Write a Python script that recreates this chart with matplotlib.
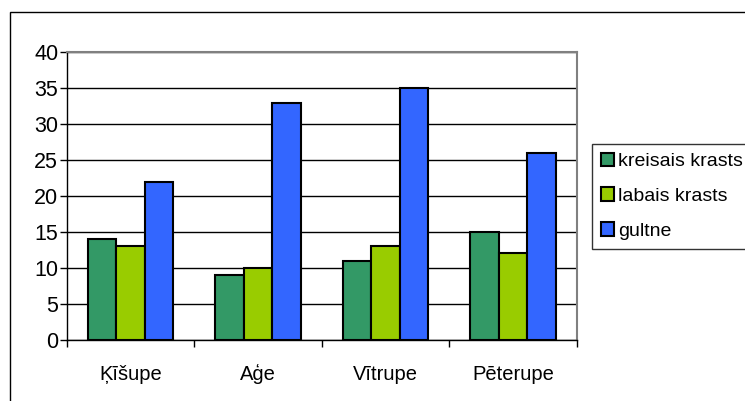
import numpy as np
import matplotlib.pyplot as plt
from matplotlib.patches import Rectangle

# River sites and the three measurement zones
sites = ['Ķīšupe', 'Aģe', 'Vītrupe', 'Pēterupe']
kreisais = [14, 9, 11, 15]
labais = [13, 10, 13, 12]
gultne = [22, 33, 35, 26]
series_names = ['kreisais krasts', 'labais krasts', 'gultne']
colors = ['#339966', '#99CC00', '#3366FF']

plt.rcParams['font.family'] = ['Liberation Sans', 'DejaVu Sans']

fig = plt.figure(figsize=(7.45, 4.01), dpi=100)
# outer chart border (runs off the right and bottom edges)
fig.patches.append(Rectangle((9.5 / 745, -0.1), 1.2, (401 - 12) / 401 + 0.1,
                             transform=fig.transFigure, fill=False,
                             edgecolor='black', lw=1))

ax = fig.add_axes([66.5 / 745, (401 - 339.5) / 401, 510.5 / 745, 287.2 / 401])

x = np.arange(len(sites))
w = 0.223
for i, (vals, name, c) in enumerate(zip([kreisais, labais, gultne], series_names, colors)):
    ax.bar(x + (i - 1) * w, vals, w, color=c, edgecolor='black', lw=1.5,
           label=name, zorder=3)

ax.set_xlim(-0.5, len(sites) - 0.5)
ax.set_ylim(0, 40)
ax.set_yticks(range(0, 41, 5))
ax.yaxis.grid(True, color='black', lw=1, zorder=0)
ax.set_axisbelow(True)

ax.set_xticks(x)
ax.set_xticklabels(sites, fontsize=14.5)
ax.set_xticks(np.arange(-0.5, len(sites)), minor=True)
ax.tick_params(axis='x', which='major', length=0, pad=18)
ax.tick_params(axis='x', which='minor', length=5, width=1, color='black', direction='out')
ax.tick_params(axis='y', length=5, width=1, labelsize=15.5, pad=1)

for s in ['top', 'right']:
    ax.spines[s].set_color('#808080')
    ax.spines[s].set_linewidth(1.5)
for s in ['left', 'bottom']:
    ax.spines[s].set_color('black')
    ax.spines[s].set_linewidth(1)

leg = fig.legend(loc='upper left', bbox_to_anchor=(592 / 745, (401 - 144) / 401),
                 fontsize=14, frameon=True, fancybox=False, edgecolor='black',
                 handlelength=0.7, handleheight=0.7, handletextpad=0.2,
                 labelspacing=0.88, borderpad=0.45, borderaxespad=0)
leg.get_frame().set_linewidth(1)

fig.savefig('out.png', dpi=100)
